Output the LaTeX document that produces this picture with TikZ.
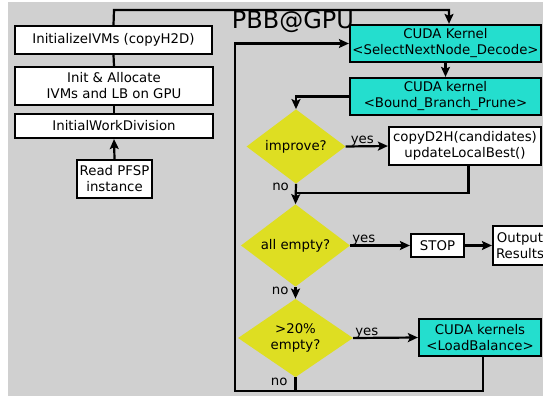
\documentclass[tikz,border=0pt]{standalone}
\usepackage{fontspec}
\setmainfont{DejaVu Sans}
\usetikzlibrary{shapes.geometric,arrows.meta}

\definecolor{bggray}{RGB}{208,208,208}
\definecolor{cudateal}{RGB}{36,222,206}
\definecolor{testyellow}{RGB}{222,222,34}

\tikzset{
  hostbox/.style={draw=black, line width=2.2pt, fill=white, align=center, inner sep=0pt},
  kernelbox/.style={hostbox, fill=cudateal},
  decision/.style={diamond, fill=testyellow, align=center, inner sep=0pt},
  link/.style={line width=2.2pt},
  flow/.style={link, -{Stealth[length=10pt,width=9pt,inset=2pt]}},
  lbl/.style={inner sep=0pt}
}

\begin{document}
\begin{tikzpicture}[x=1pt, y=-1pt, font=\fontsize{13.3}{16}\selectfont]
	%background
	\useasboundingbox (0,0) rectangle (543,396);
	\fill[bggray] (8,2) rectangle (543,396);

	%host side
	\node[hostbox, minimum width=197pt, minimum height=28pt] (ivm) at (113.5,40) {InitializeIVMs (copyH2D)};
	\node[hostbox, minimum width=198pt, minimum height=38pt] (alloc) at (114,86) {Init \& Allocate\\IVMs and LB on GPU};
	\node[hostbox, minimum width=198pt, minimum height=24pt] (work) at (114,126) {InitialWorkDivision};
	\node[hostbox, minimum width=75pt, minimum height=38pt] (read) at (114.5,179) {Read PFSP\\instance};

	\node (title) at (293,22) {\fontsize{24}{28}\selectfont PBB@GPU};

	%device side
	\node[kernelbox, minimum width=191pt, minimum height=37pt] (select) at (445.5,43.5) {CUDA Kernel\\<SelectNextNode\_Decode>};
	\node[kernelbox, minimum width=191pt, minimum height=37pt] (bound) at (445.5,96.5) {CUDA kernel\\<Bound\_Branch\_Prune>};
	\node[decision, minimum width=99pt, minimum height=69pt] (improve) at (296,146.5) {improve?};
	\node[hostbox, minimum width=152pt, minimum height=38pt] (copy) at (465,146) {copyD2H(candidates)\\updateLocalBest()};
	\node[decision, minimum width=109pt, minimum height=69pt] (allempty) at (295.5,245.5) {all empty?};
	\node[hostbox, minimum width=53pt, minimum height=23pt] (stop) at (437.5,245.5) {STOP};
	\node[hostbox, anchor=west, inner xsep=3pt, minimum height=39pt] (output) at (491.9,245.5) {Output\\Results};
	\node[decision, minimum width=115pt, minimum height=74pt] (ratio) at (295.5,338) {>20\%\\empty?};
	\node[kernelbox, minimum width=122pt, minimum height=37pt] (balance) at (480,337.5) {CUDA kernels\\<LoadBalance>};

	%turning points
	\coordinate (topturn) at (114,10);
	\coordinate (loopturn) at (235,391);
	\coordinate (jointurn) at (296,193);

	%connectors
	\draw[link] (ivm.south) -- (alloc.north);
	\draw[link] (alloc.south) -- (work.north);
	\draw[flow] (read.north) -- (work.south);
	\draw[flow] (ivm.north) -- (topturn) -| ([xshift=3.5pt]select.north);
	\draw[flow] (select.south) -- (bound.north);
	\draw[flow] (bound.west) -| (improve.north);
	\draw[flow] (improve.east) -- node[lbl, pos=0, anchor=south west, xshift=4pt, yshift=-1pt] {yes} (copy.west);
	\draw[link] ([xshift=3.5pt]copy.south) |- (jointurn);
	\draw[flow] (improve.south) -- node[lbl, pos=0.15, left=6pt] {no} (allempty.north);
	\draw[flow] (allempty.east) -- node[lbl, pos=0, anchor=south west, xshift=1pt, yshift=-1pt] {yes} (stop.west);
	\draw[flow] (stop.east) -- (output.west);
	\draw[flow] (allempty.south) -- node[lbl, pos=0.3, left=6pt] {no} (ratio.north);
	\draw[flow] (ratio.east) -- node[lbl, pos=0, anchor=south west, xshift=1pt, yshift=-1pt] {yes} (balance.west);
	\draw[link] (ratio.south) -- node[lbl, pos=0.35, left=7pt] {no} (ratio.south |- loopturn);
	\draw[flow] ([xshift=3pt]balance.south) |- (loopturn) |- (select.west);
\end{tikzpicture}
\end{document}
